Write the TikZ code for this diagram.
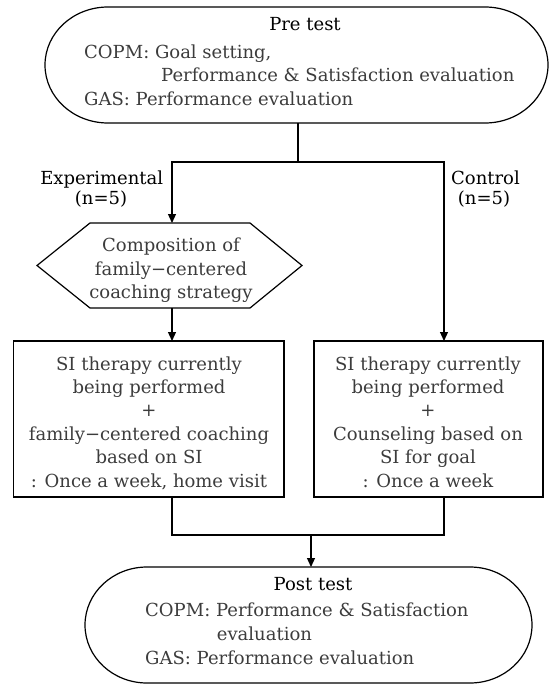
\documentclass[tikz,border=0pt]{standalone}
\usepackage{fontspec}
\setmainfont{DejaVu Serif}
\usetikzlibrary{arrows.meta}
\definecolor{bodyc}{HTML}{3C3C3C}
\begin{document}
\begin{tikzpicture}[x=1pt,y=-1pt,
  shp/.style={draw=none, inner sep=0pt, outer sep=0pt},
  boxst/.style={draw, line width=1.2pt, inner sep=0pt, outer sep=0pt},
  ln/.style={line width=1.2pt},
  arr/.style={line width=1.2pt, -{Triangle[length=9pt,width=8pt]}},
  ttl/.style={anchor=base, text=black, inner sep=0pt, font=\fontsize{18}{23.4}\selectfont},
  bdy/.style={inner sep=0pt, text=bodyc, font=\fontsize{18}{23.4}\selectfont},
]
\useasboundingbox (0,0) rectangle (549,685);

% Pre test shape
\node[shp, minimum width=503pt, minimum height=116pt] (pre) at (296.5,65) {};
\draw[ln] ([xshift=63pt]pre.north west) -- ([xshift=-63pt]pre.north east)
  arc[start angle=90,end angle=-90,x radius=63pt,y radius=58pt]
  -- ([xshift=63pt]pre.south west)
  arc[start angle=270,end angle=90,x radius=63pt,y radius=58pt] -- cycle;
\node[ttl] (pret) at (305,30.7) {Pre test};
\node[bdy, anchor=base west] (preb) at (84,58.3) {\begin{tabular}[t]{@{}l@{}}COPM: Goal setting,\\\hspace*{77pt}Performance \& Satisfaction evaluation\\GAS: Performance evaluation\end{tabular}};

% group labels
\node[ttl] (expl) at (101.7,184) {Experimental};
\node[ttl] (expn) at (101,204) {(n=5)};
\node[ttl] (conl) at (485.5,184) {Control};
\node[ttl] (conn) at (484,204) {(n=5)};

% hexagon
\node[shp, minimum width=160pt, minimum height=85pt] (hex) at (170,265.5) {};
\draw[ln] (hex.north west) -- (hex.north east) -- ([xshift=52pt]hex.east)
  -- (hex.south east) -- (hex.south west) -- ([xshift=-53pt]hex.west) -- cycle;
\node[bdy, anchor=base] (hext) at (171,251.7) {\begin{tabular}[t]{@{}c@{}}Composition of\\family−centered\\coaching strategy\end{tabular}};

% boxes
\node[boxst, minimum width=270.7pt, minimum height=156pt] (lbox) at (148.65,419) {};
\node[bdy, anchor=base] (lboxt) at (149,370) {\begin{tabular}[t]{@{}c@{}}SI therapy currently\\being performed\\+\\family−centered coaching\\based on SI\\: Once a week, home visit\end{tabular}};
\node[boxst, minimum width=229pt, minimum height=156pt] (rbox) at (428.5,419) {};
\node[bdy, anchor=base] (rboxt) at (428,370) {\begin{tabular}[t]{@{}c@{}}SI therapy currently\\being performed\\+\\Counseling based on\\SI for goal\\: Once a week\end{tabular}};

% Post test shape
\node[shp, minimum width=447pt, minimum height=116pt] (post) at (308.5,625) {};
\draw[ln] ([xshift=62pt]post.north west) -- ([xshift=-62pt]post.north east)
  arc[start angle=90,end angle=-90,x radius=62pt,y radius=58pt]
  -- ([xshift=62pt]post.south west)
  arc[start angle=270,end angle=90,x radius=62pt,y radius=58pt] -- cycle;
\node[ttl] (postt) at (313,590) {Post test};
\node[bdy, anchor=base west, font=\fontsize{18}{24}\selectfont] (postb) at (145,616.7) {\begin{tabular}[t]{@{}l@{}}COPM: Performance \& Satisfaction\\\hspace*{71.7pt}evaluation\\GAS: Performance evaluation\end{tabular}};

% connectors
\coordinate (j1) at (298,162);
\coordinate (jl) at (172,162);
\coordinate (jr) at (444,162);
\draw[ln] (pre.south -| j1) -- (j1);
\draw[arr] (j1) -| (jl |- hex.north);
\draw[arr] (j1) -| (jr |- rbox.north);
\draw[arr] (hex.south -| jl) -- (jl |- lbox.north);
\coordinate (bl) at (172,535);
\coordinate (br) at (444,535);
\coordinate (bm) at (311,535);
\draw[ln] (bl |- lbox.south) |- (br) -- (br |- rbox.south);
\draw[arr] (bm) -- (bm |- post.north);
\end{tikzpicture}
\end{document}
